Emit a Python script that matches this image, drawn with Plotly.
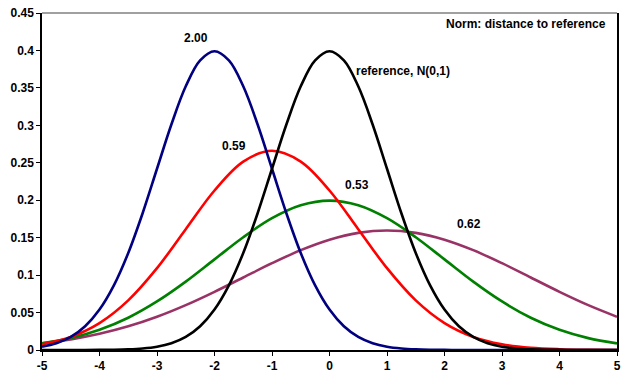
import plotly.graph_objects as go

x_half = [-5, -4.5, -4, -3.5, -3, -2.5, -2, -1.5, -1, -0.5, 0, 0.5, 1, 1.5, 2, 2.5, 3, 3.5, 4, 4.5, 5]
x_quarter = [-5, -4.75, -4.5, -4.25, -4, -3.75, -3.5, -3.25, -3, -2.75, -2.5, -2.25, -2, -1.75, -1.5, -1.25,
             -1, -0.75, -0.5, -0.25, 0, 0.25, 0.5, 0.75, 1, 1.25, 1.5, 1.75, 2, 2.25, 2.5, 2.75, 3, 3.25,
             3.5, 3.75, 4, 4.25, 4.5, 4.75, 5]

ref_n01 = [0.0000015, 0.0000051, 0.000016, 0.000048, 0.000134, 0.000353, 0.000873, 0.00203, 0.00443, 0.00909,
           0.0175, 0.03174, 0.0540, 0.0863, 0.1295, 0.1826, 0.2420, 0.3011, 0.3521, 0.3867, 0.3989,
           0.3867, 0.3521, 0.3011, 0.2420, 0.1826, 0.1295, 0.0863, 0.0540, 0.03174, 0.0175, 0.00909,
           0.00443, 0.00203, 0.000873, 0.000353, 0.000134, 0.000048, 0.000016, 0.0000051, 0.0000015]
blue_vals = [0.00443, 0.00909, 0.0175, 0.03174, 0.0540, 0.0863, 0.1295, 0.1826, 0.2420, 0.3011, 0.3521,
             0.3867, 0.3989, 0.3867, 0.3521, 0.3011, 0.2420, 0.1826, 0.1295, 0.0863, 0.0540, 0.03174,
             0.0175, 0.00909, 0.00443, 0.00203, 0.000873, 0.000353, 0.000134, 0.000048, 0.000016,
             0.0000051, 0.0000015, 0.0, 0.0, 0.0, 0.0, 0.0, 0.0, 0.0, 0.0]
red_vals = [0.00760, 0.01748, 0.0360, 0.0663, 0.1093, 0.1613, 0.2130, 0.2516, 0.2660, 0.2516, 0.2130,
            0.1613, 0.1093, 0.0663, 0.0360, 0.01748, 0.00760, 0.00295, 0.00103, 0.00032, 0.00009]
green_vals = [0.00876, 0.01587, 0.0270, 0.0431, 0.0648, 0.0913, 0.1210, 0.1506, 0.1760, 0.1933, 0.1995,
              0.1933, 0.1760, 0.1506, 0.1210, 0.0913, 0.0648, 0.0431, 0.0270, 0.01587, 0.00876]
purple_vals = [0.00896, 0.01419, 0.0216, 0.03158, 0.04436, 0.05989, 0.07768, 0.09679, 0.1159, 0.1333, 0.1473,
               0.1564, 0.1596, 0.1564, 0.1473, 0.1333, 0.1159, 0.09679, 0.07768, 0.05989, 0.04436]

series = [
    ("purple", x_half, purple_vals, "#993366"),
    ("green", x_half, green_vals, "#008000"),
    ("red", x_half, red_vals, "#FF0000"),
    ("blue", x_quarter, blue_vals, "#000080"),
    ("reference", x_quarter, ref_n01, "#000000"),
]

labels = [
    ("2.00", -2.33, 0.417),
    ("0.59", -1.66, 0.273),
    ("0.53", 0.47, 0.221),
    ("0.62", 2.42, 0.168),
]

y_ticks = [0, 0.05, 0.1, 0.15, 0.2, 0.25, 0.3, 0.35, 0.4, 0.45]
y_ticktext = ["0", "0.05", "0.1", "0.15", "0.2", "0.25", "0.3", "0.35", "0.4", "0.45"]
x_ticks = [-5, -4, -3, -2, -1, 0, 1, 2, 3, 4, 5]
x_ticktext = ["-5", "-4", "-3", "-2", "-1", "0", "1", "2", "3", "4", "5"]

fig = go.Figure()
for name, xs, vals, color in series:
    fig.add_trace(go.Scatter(x=xs, y=vals, mode="lines", name=name,
                             line=dict(color=color, width=2.6, shape="spline", smoothing=1.0),
                             showlegend=False, hoverinfo="skip"))

font_bold = dict(family="Liberation Sans, Arial, sans-serif", size=12, color="#000000", weight="bold")

for txt, xx, yy in labels:
    fig.add_annotation(x=xx, y=yy, text=txt, showarrow=False, font=font_bold,
                       xanchor="center", yanchor="middle")

fig.add_annotation(x=0.42, y=0.372, text="reference, N(0,1)", showarrow=False, font=font_bold,
                   xanchor="left", yanchor="middle")
fig.add_annotation(x=0.985, xref="paper", y=0.435, text="Norm: distance to reference", showarrow=False,
                   font=font_bold, xanchor="right", yanchor="middle")

fig.add_shape(type="line", xref="paper", yref="paper", x0=0, x1=1, y0=1, y1=1,
              line=dict(color="#808080", width=1.5))

fig.update_layout(
    width=625, height=377,
    margin=dict(l=42, r=4, t=13, b=24),
    paper_bgcolor="white", plot_bgcolor="white",
    font=font_bold,
)
fig.update_xaxes(range=[-5, 5], tickvals=x_ticks, ticktext=x_ticktext, ticks="outside", ticklen=4,
                 tickcolor="black", showline=True, linecolor="black", linewidth=1.5, showgrid=False,
                 zeroline=False, tickfont=font_bold)
fig.update_yaxes(range=[0, 0.45], tickvals=y_ticks, ticktext=y_ticktext, ticks="outside", ticklen=4,
                 tickcolor="black", showline=True, linecolor="black", linewidth=1.5, mirror=True,
                 showgrid=False, zeroline=False, tickfont=font_bold)

fig.write_html("out.html", config={"displayModeBar": False},
               post_script="document.body.style.margin='0px';")
